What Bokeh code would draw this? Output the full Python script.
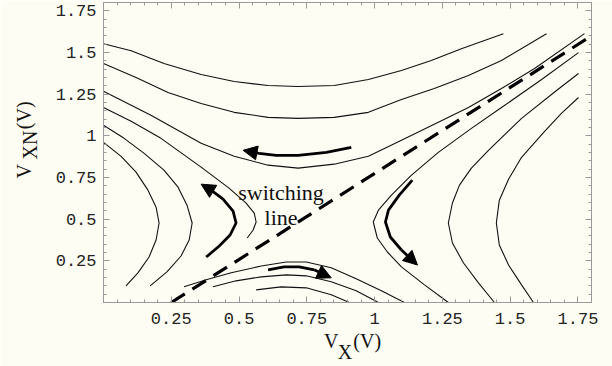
from bokeh.plotting import figure
from bokeh.models import (Range1d, LinearAxis, FixedTicker, Label, Arrow, NormalHead,
                          ColumnDataSource)
from bokeh.embed import file_html
from bokeh.resources import INLINE

# ---------------- data (in volts) ----------------
# upper family (U shaped)
u1_x = [0.0, 0.102, 0.223, 0.360, 0.482, 0.607, 0.718, 0.851, 0.977, 1.099, 1.209, 1.320, 1.475]
u1_y = [1.553, 1.511, 1.434, 1.368, 1.326, 1.302, 1.296, 1.302, 1.338, 1.392, 1.452, 1.523, 1.613]
u2_x = [0.0, 0.120, 0.238, 0.360, 0.482, 0.607, 0.718, 0.851, 0.977, 1.099, 1.220, 1.346, 1.468, 1.634]
u2_y = [1.434, 1.350, 1.260, 1.194, 1.141, 1.111, 1.105, 1.111, 1.141, 1.218, 1.284, 1.362, 1.452, 1.613]
u3_x = [0.0, 0.175, 0.360, 0.482, 0.607, 0.718, 0.851, 0.977, 1.099, 1.220, 1.346, 1.468, 1.590, 1.774]
u3_y = [1.267, 1.123, 0.955, 0.877, 0.824, 0.806, 0.830, 0.877, 0.973, 1.069, 1.170, 1.284, 1.404, 1.613]
# left family
la_x = [0.0, 0.102, 0.212, 0.360, 0.463, 0.526, 0.556, 0.563, 0.552, 0.530]
la_y = [1.170, 1.087, 0.985, 0.812, 0.686, 0.596, 0.536, 0.483, 0.435, 0.387]
lb_x = [0.0, 0.076, 0.150, 0.223, 0.275, 0.308, 0.327, 0.316, 0.286, 0.234, 0.172]
lb_y = [1.063, 0.985, 0.895, 0.794, 0.692, 0.584, 0.477, 0.375, 0.279, 0.184, 0.100]
lc_x = [0.0, 0.065, 0.120, 0.164, 0.194, 0.205, 0.194, 0.168, 0.127, 0.083]
lc_y = [0.961, 0.877, 0.782, 0.674, 0.572, 0.477, 0.375, 0.273, 0.178, 0.100]
# right family
r1_x = [1.752, 1.616, 1.468, 1.357, 1.235, 1.136, 1.062, 1.014, 0.995, 1.010, 1.047, 1.099, 1.184, 1.272]
r1_y = [1.499, 1.338, 1.170, 1.045, 0.901, 0.764, 0.644, 0.554, 0.483, 0.387, 0.303, 0.214, 0.106, 0.0]
r2_x = [1.752, 1.671, 1.542, 1.420, 1.357, 1.313, 1.287, 1.272, 1.287, 1.328, 1.383, 1.442]
r2_y = [1.374, 1.272, 1.105, 0.913, 0.806, 0.704, 0.597, 0.477, 0.357, 0.237, 0.118, 0.0]
r3_x = [1.752, 1.689, 1.627, 1.542, 1.494, 1.460, 1.449, 1.460, 1.494, 1.542, 1.586]
r3_y = [1.230, 1.135, 1.027, 0.871, 0.740, 0.614, 0.477, 0.345, 0.225, 0.106, 0.0]
# lower family (cap shaped)
b1_x = [0.297, 0.379, 0.471, 0.582, 0.674, 0.748, 0.840, 0.932, 1.025, 1.110]
b1_y = [0.094, 0.136, 0.178, 0.219, 0.243, 0.243, 0.208, 0.142, 0.070, 0.0]
b2_x = [0.404, 0.489, 0.582, 0.674, 0.748, 0.840, 0.932, 1.014]
b2_y = [0.094, 0.130, 0.154, 0.166, 0.160, 0.124, 0.070, 0.0]
b3_x = [0.563, 0.655, 0.748, 0.840, 0.907]
b3_y = [0.076, 0.094, 0.088, 0.046, 0.0]
# switching line
sw_x = [0.25, 1.80]
sw_y = [0.0, 1.60]
# direction arrows (last point = arrow tip)
a1_x = [0.914, 0.822, 0.718, 0.637, 0.574, 0.515]
a1_y = [0.931, 0.901, 0.883, 0.883, 0.895, 0.913]
a2_x = [0.379, 0.427, 0.467, 0.489, 0.478, 0.441, 0.397, 0.360]
a2_y = [0.273, 0.339, 0.405, 0.477, 0.548, 0.620, 0.674, 0.710]
a3_x = [0.607, 0.666, 0.722, 0.777, 0.840]
a3_y = [0.196, 0.214, 0.214, 0.196, 0.148]
a4_x = [1.139, 1.091, 1.051, 1.040, 1.058, 1.099, 1.158]
a4_y = [0.734, 0.644, 0.554, 0.483, 0.393, 0.315, 0.225]

tick_vals = [0.25, 0.5, 0.75, 1.0, 1.25, 1.5, 1.75]
tick_text = ["0.25", "0.5", "0.75", "1", "1.25", "1.5", "1.75"]

# axis titles: V with subscript (second line sits lower = subscript)
NB = "\u00a0"
x_title = NB * 2 + "V" + NB * 3 + "(V)" + "\n" + NB * 5 + "X" + NB * 6
y_title = NB * 5 + "V" + NB * 7 + "(V)" + "\n" + NB * 9 + "XN" + NB * 6

# ---------------- figure ----------------
BG = "#FEFDF3"
FRAME = "#9a9a9a"
SERIF = "Liberation Serif"
p = figure(width=612, height=366, output_backend="svg", toolbar_location=None,
           x_range=Range1d(0, 1.8), y_range=Range1d(0, 1.8),
           min_border_left=103, min_border_right=21, min_border_top=2, min_border_bottom=64,
           background_fill_color=BG, border_fill_color=BG, x_axis_type=None, y_axis_type=None)
p.grid.visible = False
p.outline_line_color = FRAME
p.outline_line_width = 1

minor = [round(0.05 * i, 2) for i in range(0, 37)]
overrides = dict(zip(tick_vals, tick_text))

def make_axis(show_labels, standoff=7):
    ax = LinearAxis(ticker=FixedTicker(ticks=tick_vals, minor_ticks=minor))
    ax.axis_line_color = FRAME
    ax.major_tick_line_color = FRAME
    ax.minor_tick_line_color = FRAME
    ax.major_tick_in = 6
    ax.major_tick_out = 0
    ax.minor_tick_in = 3
    ax.minor_tick_out = 0
    ax.major_label_overrides = overrides
    if show_labels:
        ax.major_label_text_font = "Liberation Mono"
        ax.major_label_text_font_size = "17px"
        ax.major_label_text_color = "#222222"
        ax.major_label_standoff = standoff
    else:
        ax.major_label_text_font_size = "1px"
        ax.major_label_text_alpha = 0
        ax.major_label_standoff = 0
    return ax

xax = make_axis(True, standoff=10)
xax.axis_label = x_title
xax.axis_label_text_font = SERIF
xax.axis_label_text_font_size = "20px"
xax.axis_label_text_font_style = "normal"
xax.axis_label_text_color = "#111111"
xax.axis_label_text_line_height = 0.5
xax.axis_label_standoff = 3

yax = make_axis(True, standoff=7)
yax.axis_label = y_title
yax.axis_label_text_font = SERIF
yax.axis_label_text_font_size = "20px"
yax.axis_label_text_font_style = "normal"
yax.axis_label_text_color = "#111111"
yax.axis_label_text_line_height = 0.28
yax.axis_label_standoff = 12

p.add_layout(xax, "below")
p.add_layout(yax, "left")
p.add_layout(make_axis(False), "above")
p.add_layout(make_axis(False), "right")

CURVE = "#111111"
for xs, ys in [(u1_x, u1_y), (u2_x, u2_y), (u3_x, u3_y), (la_x, la_y), (lb_x, lb_y),
               (lc_x, lc_y), (r1_x, r1_y), (r2_x, r2_y), (r3_x, r3_y), (b1_x, b1_y),
               (b2_x, b2_y), (b3_x, b3_y)]:
    p.line(xs, ys, line_color=CURVE, line_width=1.1)

p.line(sw_x, sw_y, line_color="black", line_width=3.2, line_dash="16 9")

heads = {"xs": [], "ys": [], "xe": [], "ye": []}
for xs, ys in [(a1_x, a1_y), (a2_x, a2_y), (a3_x, a3_y), (a4_x, a4_y)]:
    p.line(xs[:-1], ys[:-1], line_color="black", line_width=2.8)
    heads["xs"].append(xs[-2]); heads["ys"].append(ys[-2])
    heads["xe"].append(xs[-1]); heads["ye"].append(ys[-1])
p.add_layout(Arrow(end=NormalHead(size=14, fill_color="black", line_color="black", line_width=1),
                   x_start="xs", y_start="ys", x_end="xe", y_end="ye",
                   line_width=2.8, line_color="black", source=ColumnDataSource(heads)))

p.add_layout(Label(x=0.655, y=0.662, text="switching", text_font=SERIF, text_font_size="22px",
                   text_align="center", text_baseline="alphabetic", text_color="#111111"))
p.add_layout(Label(x=0.655, y=0.513, text="line", text_font=SERIF, text_font_size="22px",
                   text_align="center", text_baseline="alphabetic", text_color="#111111"))

open("out.html", "w").write(file_html(p, INLINE))
